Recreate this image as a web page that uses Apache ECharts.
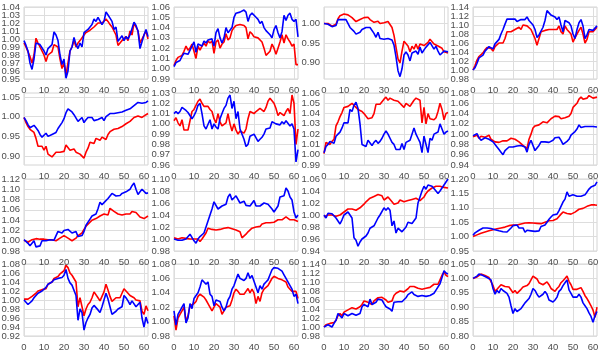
<!DOCTYPE html>
<html>
<head>
<meta charset="utf-8">
<script src="https://cdn.jsdelivr.net/npm/echarts@6/dist/echarts.min.js"></script>
<style>
  html, body { margin: 0; padding: 0; background: #fff; }
  #chart { width: 602px; height: 353px; }
</style>
</head>
<body>
<div id="chart"></div>
<script>
// x runs 0..62 in every panel
const xTicks = [0, 10, 20, 30, 40, 50, 60];

// panel values (row by row, left to right)
const p1Red = [0.995,0.990,0.988,0.978,0.970,0.980,1.001,0.995,0.990,0.988,0.980,0.972,0.980,0.982,0.984,0.993,0.993,0.990,0.975,0.963,0.970,0.955,0.970,0.985,0.990,0.998,0.990,0.995,0.998,1.000,1.005,1.008,1.010,1.011,1.013,1.015,1.016,1.020,1.021,1.020,1.018,1.025,1.022,1.018,1.015,1.016,1.005,0.992,0.990,0.998,0.996,1.003,0.998,1.010,1.005,1.020,1.015,1.010,0.995,0.996,1.005,1.010,1.000];
const p1Blue = [0.998,0.992,0.985,0.970,0.962,0.975,0.995,0.994,0.993,0.992,0.985,0.980,0.988,0.990,0.993,1.009,1.005,0.998,0.980,0.968,0.975,0.951,0.960,0.985,0.990,1.002,0.993,0.988,0.995,0.990,1.008,1.010,1.012,1.015,1.018,1.025,1.022,1.027,1.025,1.018,1.022,1.034,1.030,1.026,1.022,1.012,1.015,0.997,0.995,1.004,0.998,1.003,1.000,1.005,1.003,1.021,1.017,1.010,0.988,0.990,1.005,1.012,1.003];
const p2Red = [1.003,1.008,1.011,1.011,1.013,1.017,1.022,1.018,1.020,1.024,1.025,1.010,1.022,1.018,1.022,1.025,1.022,1.027,1.025,1.027,1.015,1.026,1.028,1.020,1.024,1.026,1.034,1.028,1.030,1.037,1.040,1.042,1.043,1.043,1.043,1.042,1.040,1.029,1.036,1.034,1.031,1.031,1.030,1.030,1.026,1.020,1.013,1.012,1.017,1.024,1.020,1.014,1.020,1.026,1.033,1.025,1.033,1.029,1.026,1.022,1.024,1.004,1.004];
const p2Blue = [1.002,1.006,1.007,1.008,1.012,1.015,1.016,1.014,1.013,1.022,1.026,1.016,1.024,1.025,1.022,1.027,1.025,1.028,1.027,1.029,1.022,1.035,1.039,1.030,1.025,1.030,1.040,1.035,1.034,1.040,1.050,1.054,1.055,1.055,1.056,1.057,1.055,1.046,1.052,1.054,1.053,1.050,1.048,1.044,1.046,1.040,1.037,1.038,1.033,1.030,1.038,1.042,1.035,1.030,1.036,1.052,1.047,1.052,1.054,1.048,1.046,1.048,1.031];
const p3Red = [1.000,0.999,1.000,0.998,0.993,0.992,0.998,1.012,1.020,1.022,1.024,1.023,1.022,1.018,1.015,1.010,1.005,1.000,1.010,1.013,1.015,1.018,1.016,1.010,1.005,1.003,1.000,1.006,1.000,1.002,1.002,1.003,1.005,1.002,0.990,0.970,0.940,0.910,0.900,0.930,0.955,0.953,0.943,0.928,0.942,0.935,0.948,0.935,0.948,0.943,0.944,0.946,0.952,0.960,0.955,0.948,0.945,0.943,0.940,0.937,0.928,0.925,0.925];
const p3Blue = [1.000,0.999,0.998,1.003,0.992,0.990,0.995,1.010,1.011,1.010,1.013,1.010,1.008,0.990,0.988,0.980,0.973,0.972,0.978,0.985,0.988,0.990,0.990,0.990,0.992,0.975,0.965,0.978,0.962,0.965,0.960,0.960,0.962,0.965,0.958,0.945,0.915,0.880,0.865,0.885,0.920,0.928,0.920,0.905,0.925,0.925,0.930,0.922,0.940,0.925,0.933,0.940,0.945,0.952,0.948,0.935,0.942,0.930,0.920,0.915,0.930,0.932,0.928];
const p4Red = [1.000,1.010,1.022,1.030,1.032,1.038,1.045,1.050,1.052,1.048,1.042,1.052,1.055,1.060,1.062,1.060,1.070,1.085,1.088,1.085,1.088,1.090,1.092,1.095,1.090,1.100,1.098,1.098,1.095,1.090,1.080,1.070,1.055,1.070,1.085,1.088,1.088,1.090,1.090,1.092,1.090,1.092,1.090,1.098,1.085,1.080,1.098,1.090,1.085,1.080,1.062,1.072,1.080,1.088,1.095,1.080,1.060,1.068,1.085,1.088,1.085,1.090,1.095];
const p4Blue = [1.000,1.005,1.015,1.027,1.030,1.033,1.042,1.047,1.052,1.050,1.047,1.058,1.062,1.068,1.080,1.090,1.102,1.113,1.115,1.113,1.110,1.113,1.108,1.110,1.112,1.115,1.112,1.118,1.110,1.106,1.100,1.090,1.072,1.078,1.080,1.095,1.110,1.132,1.128,1.122,1.126,1.118,1.112,1.118,1.100,1.085,1.110,1.113,1.105,1.098,1.080,1.070,1.090,1.105,1.112,1.098,1.070,1.078,1.090,1.092,1.088,1.090,1.098];
const p5Red = [0.998,0.985,0.975,0.968,0.968,0.960,0.945,0.925,0.920,0.925,0.915,0.925,0.905,0.905,0.898,0.900,0.910,0.905,0.910,0.908,0.912,0.928,0.930,0.915,0.920,0.918,0.910,0.905,0.905,0.900,0.895,0.910,0.920,0.935,0.935,0.932,0.945,0.940,0.940,0.948,0.945,0.942,0.955,0.962,0.965,0.968,0.968,0.970,0.970,0.975,0.978,0.982,0.985,0.988,0.993,0.998,1.000,1.002,0.998,0.998,1.000,1.005,1.008];
const p5Blue = [0.998,0.990,0.980,0.972,0.975,0.978,0.972,0.965,0.955,0.948,0.952,0.958,0.950,0.945,0.955,0.950,0.960,0.970,0.972,0.985,0.995,1.010,1.020,1.018,1.012,1.005,1.000,0.988,0.992,0.998,0.985,0.992,0.998,1.003,0.998,0.990,0.995,0.993,0.995,0.998,0.990,1.000,1.005,1.008,1.005,1.008,1.010,1.010,1.013,1.012,1.015,1.016,1.020,1.020,1.023,1.028,1.032,1.036,1.033,1.034,1.032,1.036,1.040];
const p6Red = [1.003,1.006,1.001,0.998,1.004,0.994,0.995,0.994,1.003,1.012,1.014,1.013,1.022,1.024,1.020,1.017,1.016,1.017,1.014,1.012,1.005,1.001,1.010,1.002,0.998,0.998,1.001,1.010,1.000,0.993,1.000,0.994,0.990,0.993,0.993,0.991,0.995,1.005,1.012,1.013,1.010,1.012,1.011,1.015,1.014,1.012,1.016,1.022,1.025,1.024,1.020,1.015,1.008,1.011,1.010,1.008,1.012,1.015,1.010,1.028,1.020,0.980,0.995];
const p6Blue = [1.010,1.012,1.010,1.012,1.016,1.015,1.013,1.011,1.010,1.005,1.008,1.012,1.018,1.020,1.010,0.998,0.995,0.996,1.004,0.995,1.000,0.997,0.995,1.005,1.010,1.015,1.018,1.025,1.028,1.015,1.022,1.005,1.012,0.995,0.990,0.985,0.978,0.980,0.988,0.989,0.990,0.989,0.983,0.985,0.987,0.990,0.995,0.994,0.996,1.002,1.001,1.000,1.001,0.999,1.002,1.000,1.003,1.002,0.998,1.000,0.995,0.963,0.975];
const p7Red = [1.001,1.012,1.013,1.010,1.013,1.015,1.028,1.032,1.037,1.041,1.046,1.046,1.047,1.048,1.050,1.048,1.046,1.044,1.043,1.042,1.040,1.039,1.035,1.034,1.036,1.040,1.049,1.050,1.049,1.050,1.054,1.056,1.053,1.055,1.054,1.053,1.054,1.052,1.050,1.048,1.046,1.050,1.050,1.047,1.050,1.053,1.055,1.056,1.053,1.031,1.046,1.030,1.040,1.035,1.034,1.034,1.036,1.042,1.050,1.044,1.034,1.040,1.041];
const p7Blue = [1.002,1.008,1.010,1.013,1.012,1.011,1.018,1.020,1.022,1.026,1.031,1.030,1.031,1.044,1.042,1.048,1.051,1.045,1.030,1.010,1.009,1.008,1.014,1.013,1.009,1.012,1.014,1.011,1.013,1.016,1.020,1.023,1.020,1.016,1.012,1.010,1.005,1.006,1.005,1.011,1.005,1.012,1.013,1.014,1.020,1.026,1.020,1.016,1.012,1.002,1.018,1.010,1.002,1.016,1.014,1.020,1.020,1.022,1.030,1.025,1.020,1.022,1.023];
const p8Red = [0.995,0.992,0.998,0.992,0.996,0.998,0.994,0.996,0.998,0.990,0.987,0.985,0.986,0.984,0.986,0.987,0.988,0.987,0.988,0.992,0.991,0.990,0.988,0.985,0.982,0.978,0.975,0.972,0.990,1.000,1.012,1.016,1.018,1.018,1.020,1.024,1.022,1.022,1.025,1.030,1.032,1.035,1.033,1.034,1.030,1.031,1.032,1.034,1.035,1.040,1.052,1.055,1.060,1.068,1.072,1.068,1.068,1.070,1.075,1.073,1.070,1.072,1.072];
const p8Blue = [0.997,0.995,1.001,0.993,0.988,0.990,0.993,0.995,0.990,0.988,0.985,0.982,0.975,0.970,0.965,0.960,0.968,0.970,0.975,0.978,0.975,0.978,0.977,0.976,0.978,0.978,0.975,0.965,0.980,0.988,0.985,0.968,0.970,0.978,0.985,0.987,0.985,0.986,0.984,0.985,0.988,0.993,0.996,0.994,0.988,0.980,0.982,0.986,0.990,0.998,0.997,1.005,1.010,1.018,1.013,1.013,1.015,1.014,1.015,1.016,1.015,1.016,1.014];
const p9Red = [1.001,0.999,0.997,0.995,1.002,1.003,1.004,1.006,1.003,1.002,1.003,1.001,1.002,1.003,1.002,1.000,1.000,1.002,1.005,1.008,1.010,1.008,1.005,1.002,1.000,1.001,1.005,1.010,1.010,1.015,1.022,1.028,1.032,1.036,1.040,1.040,1.043,1.046,1.048,1.050,1.052,1.052,1.050,1.063,1.060,1.057,1.055,1.052,1.050,1.050,1.053,1.052,1.050,1.052,1.057,1.055,1.055,1.054,1.046,1.045,1.043,1.042,1.048];
const p9Blue = [1.002,1.000,0.995,0.990,0.992,1.000,0.988,0.985,0.990,1.000,1.003,1.000,0.997,1.002,1.000,1.001,1.003,1.018,1.018,1.015,1.020,1.022,1.022,1.020,1.015,1.015,1.018,1.008,1.007,1.010,1.018,1.030,1.032,1.042,1.048,1.046,1.052,1.062,1.075,1.070,1.074,1.072,1.082,1.085,1.092,1.090,1.087,1.085,1.088,1.092,1.090,1.095,1.098,1.100,1.107,1.112,1.100,1.090,1.095,1.100,1.098,1.092,1.093];
const p10Red = [1.002,1.001,1.000,1.000,1.002,1.000,1.001,1.000,1.000,1.001,1.000,0.998,1.000,0.996,1.000,1.000,1.010,1.018,1.018,1.016,1.016,1.015,1.016,1.016,1.017,1.018,1.018,1.019,1.018,1.017,1.016,1.015,1.018,1.012,1.002,1.004,1.008,1.012,1.015,1.018,1.020,1.020,1.020,1.021,1.025,1.028,1.027,1.025,1.027,1.027,1.028,1.030,1.032,1.034,1.032,1.035,1.037,1.034,1.032,1.030,1.032,1.031,1.029];
const p10Blue = [1.000,0.999,0.998,0.996,0.998,1.000,1.000,1.002,1.008,1.008,0.997,0.993,1.000,1.004,1.002,1.010,1.020,1.030,1.040,1.050,1.062,1.060,1.050,1.053,1.055,1.054,1.058,1.070,1.075,1.065,1.068,1.072,1.070,1.060,1.062,1.063,1.056,1.058,1.055,1.056,1.064,1.055,1.058,1.055,1.052,1.060,1.062,1.058,1.055,1.050,1.045,1.042,1.055,1.070,1.072,1.072,1.085,1.080,1.070,1.065,1.045,1.035,1.040];
const p11Red = [0.997,0.994,1.000,1.002,1.000,0.997,0.998,0.998,1.000,1.002,1.005,1.008,1.010,1.008,1.010,1.010,1.008,1.010,1.012,1.015,1.018,1.022,1.025,1.028,1.030,1.031,1.033,1.034,1.035,1.032,1.025,1.028,1.030,1.030,1.022,1.018,1.015,1.020,1.025,1.022,1.022,1.023,1.024,1.025,1.026,1.028,1.028,1.025,1.024,1.022,1.030,1.036,1.040,1.043,1.045,1.047,1.048,1.050,1.048,1.048,1.046,1.045,1.045];
const p11Blue = [1.000,0.995,1.003,1.005,1.002,1.000,0.995,0.990,0.985,0.992,1.000,1.000,1.005,1.000,0.995,0.962,0.958,0.948,0.955,0.960,0.960,0.965,0.970,0.978,0.980,0.982,0.985,0.995,1.000,1.002,1.012,1.008,1.012,1.008,0.982,0.990,0.970,0.978,0.975,0.972,0.970,0.980,0.988,0.986,0.986,0.988,0.995,1.020,1.030,1.040,1.048,1.043,1.050,1.052,1.048,1.045,1.040,1.036,1.040,1.045,1.048,1.055,1.060];
const p12Red = [1.000,1.002,1.006,1.010,1.012,1.015,1.016,1.018,1.020,1.022,1.024,1.025,1.027,1.028,1.030,1.032,1.033,1.036,1.038,1.040,1.040,1.042,1.040,1.042,1.044,1.046,1.047,1.048,1.048,1.048,1.047,1.048,1.046,1.047,1.045,1.047,1.050,1.052,1.055,1.055,1.056,1.058,1.062,1.068,1.078,1.085,1.085,1.080,1.078,1.078,1.082,1.085,1.090,1.095,1.100,1.098,1.102,1.105,1.110,1.110,1.110,1.110,1.109];
const p12Blue = [1.005,1.013,1.018,1.022,1.026,1.030,1.032,1.030,1.030,1.028,1.026,1.024,1.022,1.020,1.018,1.017,1.015,1.016,1.020,1.030,1.038,1.042,1.040,1.030,1.028,1.030,1.015,1.022,1.018,1.020,1.022,1.018,1.015,1.020,1.035,1.030,1.040,1.050,1.060,1.068,1.075,1.072,1.078,1.090,1.105,1.120,1.130,1.155,1.140,1.135,1.145,1.140,1.140,1.145,1.140,1.140,1.145,1.155,1.165,1.172,1.175,1.178,1.190];
const p13Red = [1.002,1.000,1.002,1.005,1.008,1.012,1.015,1.020,1.022,1.023,1.023,1.025,1.035,1.038,1.040,1.048,1.050,1.052,1.058,1.060,1.065,1.077,1.072,1.060,1.055,1.052,1.040,0.985,1.005,1.003,0.965,0.980,0.990,0.995,1.005,1.018,1.015,1.005,0.998,1.008,1.018,1.035,1.022,1.008,0.997,0.998,1.005,1.008,1.005,1.008,1.025,1.020,1.015,1.010,1.012,1.005,1.000,0.996,0.998,0.975,0.968,0.987,0.976];
const p13Blue = [1.000,0.997,0.990,0.992,0.998,1.005,1.010,1.015,1.018,1.020,1.020,1.028,1.035,1.038,1.040,1.045,1.045,1.048,1.046,1.050,1.055,1.068,1.048,1.038,1.033,1.030,1.010,0.955,0.980,0.972,0.933,0.950,0.960,0.968,0.982,0.988,0.985,0.978,0.972,0.985,1.000,1.015,1.002,0.985,0.968,0.965,0.975,0.980,0.980,0.985,1.010,1.005,0.998,0.990,0.998,1.002,0.985,0.990,0.995,0.960,0.940,0.962,0.948];
const p14Red = [1.008,0.988,1.005,1.010,1.015,1.020,1.000,1.008,1.022,1.020,1.025,1.028,1.035,1.038,1.036,1.034,1.030,1.025,1.025,1.015,1.020,1.025,1.025,1.020,1.010,1.008,1.020,1.022,1.022,1.030,1.040,1.045,1.042,1.038,1.040,1.038,1.042,1.046,1.040,1.045,1.040,1.025,1.035,1.028,1.040,1.045,1.046,1.050,1.055,1.060,1.063,1.063,1.060,1.060,1.058,1.058,1.055,1.048,1.045,1.042,1.040,1.042,1.032];
const p14Blue = [1.015,0.995,1.010,1.015,1.020,1.025,0.998,1.005,1.025,1.018,1.032,1.033,1.040,1.048,1.058,1.055,1.052,1.055,1.038,1.035,1.022,1.030,1.032,1.028,1.020,1.015,1.020,1.030,1.035,1.045,1.050,1.058,1.066,1.060,1.058,1.057,1.060,1.068,1.060,1.064,1.062,1.048,1.040,1.050,1.045,1.052,1.055,1.058,1.065,1.072,1.075,1.076,1.074,1.075,1.070,1.065,1.060,1.058,1.050,1.045,1.035,1.038,1.025];
const p15Red = [1.000,1.005,1.005,1.008,1.005,1.010,1.015,1.025,1.030,1.025,1.033,1.035,1.038,1.040,1.043,1.042,1.040,1.040,1.045,1.050,1.058,1.060,1.055,1.055,1.050,1.058,1.060,1.065,1.068,1.066,1.065,1.060,1.055,1.058,1.058,1.070,1.075,1.078,1.080,1.080,1.078,1.080,1.085,1.090,1.092,1.090,1.088,1.086,1.086,1.084,1.086,1.086,1.085,1.088,1.090,1.095,1.095,1.095,1.105,1.115,1.122,1.115,1.112];
const p15Blue = [1.000,1.004,1.005,1.003,1.000,1.008,1.015,1.030,1.033,1.020,1.030,1.030,1.025,1.028,1.030,1.028,1.026,1.022,1.030,1.045,1.050,1.052,1.045,1.062,1.050,1.048,1.055,1.062,1.066,1.060,1.052,1.045,1.042,1.040,1.035,1.055,1.056,1.056,1.057,1.056,1.055,1.065,1.072,1.075,1.078,1.072,1.070,1.068,1.070,1.070,1.068,1.068,1.068,1.070,1.072,1.075,1.082,1.085,1.096,1.110,1.125,1.120,1.118];
const p16Red = [1.000,1.002,1.005,1.010,1.015,1.013,1.010,1.005,1.003,1.000,0.975,0.955,0.962,0.962,0.978,0.978,0.972,0.972,0.970,0.965,0.950,0.958,0.948,0.955,0.962,0.970,0.972,0.975,0.982,0.995,1.008,1.007,0.998,0.985,0.980,0.978,0.982,0.988,0.978,0.965,0.960,0.955,0.965,0.972,0.985,0.992,1.000,1.008,0.990,0.978,0.962,0.958,0.962,0.965,0.968,0.955,0.940,0.930,0.918,0.905,0.890,0.865,0.900];
const p16Blue = [1.000,1.002,1.008,1.015,1.020,1.010,1.008,1.003,1.000,0.995,0.965,0.945,0.958,0.950,0.965,0.958,0.952,0.948,0.935,0.905,0.878,0.895,0.885,0.882,0.895,0.905,0.915,0.920,0.930,0.945,0.965,0.958,0.945,0.935,0.932,0.945,0.955,0.945,0.925,0.925,0.918,0.925,0.935,0.955,0.962,0.975,0.985,0.995,0.960,0.948,0.935,0.930,0.935,0.945,0.935,0.915,0.905,0.895,0.880,0.868,0.848,0.870,0.885];

// y-axis extents and tick labels per panel
const yMins = [0.95, 0.99, 0.859, 0.98, 0.8775, 0.96, 0.99, 0.94, 0.98, 0.98, 0.94, 0.95, 0.92, 0.98, 0.98, 0.80];
const yMaxs = [1.04, 1.06, 1.042, 1.14, 1.06, 1.03, 1.06, 1.08, 1.12, 1.10, 1.06, 1.20, 1.08, 1.08, 1.14, 1.05];
const yTicks = [
    [0.95, 0.96, 0.97, 0.98, 0.99, 1.00, 1.01, 1.02, 1.03, 1.04],
    [0.99, 1.00, 1.01, 1.02, 1.03, 1.04, 1.05, 1.06],
    [0.90, 0.95, 1.00],
    [0.98, 1.00, 1.02, 1.04, 1.06, 1.08, 1.10, 1.12, 1.14],
    [0.90, 0.95, 1.00, 1.05],
    [0.96, 0.97, 0.98, 0.99, 1.00, 1.01, 1.02, 1.03],
    [0.99, 1.00, 1.01, 1.02, 1.03, 1.04, 1.05, 1.06],
    [0.94, 0.96, 0.98, 1.00, 1.02, 1.04, 1.06, 1.08],
    [0.98, 1.00, 1.02, 1.04, 1.06, 1.08, 1.10, 1.12],
    [0.98, 1.00, 1.02, 1.04, 1.06, 1.08, 1.10],
    [0.94, 0.96, 0.98, 1.00, 1.02, 1.04, 1.06],
    [0.95, 1.00, 1.05, 1.10, 1.15, 1.20],
    [0.92, 0.94, 0.96, 0.98, 1.00, 1.02, 1.04, 1.06, 1.08],
    [0.98, 1.00, 1.02, 1.04, 1.06, 1.08],
    [0.98, 1.00, 1.02, 1.04, 1.06, 1.08, 1.10, 1.12, 1.14],
    [0.80, 0.85, 0.90, 0.95, 1.00, 1.05]
];

const reds = [p1Red, p2Red, p3Red, p4Red, p5Red, p6Red, p7Red, p8Red, p9Red, p10Red, p11Red, p12Red, p13Red, p14Red, p15Red, p16Red];
const blues = [p1Blue, p2Blue, p3Blue, p4Blue, p5Blue, p6Blue, p7Blue, p8Blue, p9Blue, p10Blue, p11Blue, p12Blue, p13Blue, p14Blue, p15Blue, p16Blue];

// layout of the 4x4 panels (pixels)
const colLeft = [24, 174, 324, 473];
const rowTop = [7, 93, 179, 264];
const panelW = 124;
const panelH = 72;

const textColor = '#4d4d4d';
const fontFamily = 'Liberation Sans, Arial, sans-serif';
const fontSize = 9.5;
const gridLine = { show: true, lineStyle: { color: '#dddddd', width: 1 } };

const grids = [], xAxes = [], yAxes = [], series = [];
for (let i = 0; i < 16; i++) {
    const r = Math.floor(i / 4), c = i % 4;
    grids.push({
        left: colLeft[c], top: rowTop[r], width: panelW, height: panelH,
        show: true, borderColor: '#d4d4d4', borderWidth: 1
    });
    xAxes.push({
        type: 'value', gridIndex: i, min: 0, max: 62,
        axisLine: { show: false },
        axisTick: { show: false, customValues: xTicks },
        axisLabel: {
            margin: 6, customValues: xTicks, interval: 0,
            color: textColor, fontSize: fontSize, fontFamily: fontFamily
        },
        splitLine: gridLine
    });
    yAxes.push({
        type: 'value', gridIndex: i, min: yMins[i], max: yMaxs[i],
        axisLine: { show: false },
        axisTick: { show: false, customValues: yTicks[i] },
        // labels are added below as text, echarts thins the crowded ones
        axisLabel: { show: false },
        splitLine: gridLine
    });
    series.push({
        type: 'line', xAxisIndex: i, yAxisIndex: i, symbol: 'none',
        data: reds[i].map((v, k) => [k, v]),
        lineStyle: { color: '#ff0000', width: 1.6 }, itemStyle: { color: '#ff0000' }
    });
    series.push({
        type: 'line', xAxisIndex: i, yAxisIndex: i, symbol: 'none',
        data: blues[i].map((v, k) => [k, v]),
        lineStyle: { color: '#0000ff', width: 1.6 }, itemStyle: { color: '#0000ff' }
    });
}

const chart = echarts.init(document.getElementById('chart'), null, { renderer: 'canvas' });
chart.setOption({
    animation: false,
    backgroundColor: '#ffffff',
    grid: grids,
    xAxis: xAxes,
    yAxis: yAxes,
    series: series
});

// y tick labels, placed with the axis scale of each panel
const labels = [];
for (let i = 0; i < 16; i++) {
    const c = i % 4;
    yTicks[i].forEach(v => {
        const py = chart.convertToPixel({ yAxisIndex: i }, v);
        labels.push({
            type: 'text', silent: true,
            x: colLeft[c] - 4, y: py,
            style: {
                text: v.toFixed(2), fill: textColor,
                fontSize: fontSize, fontFamily: fontFamily,
                align: 'right', verticalAlign: 'middle'
            }
        });
    });
}
chart.setOption({ graphic: labels });
</script>
</body>
</html>
